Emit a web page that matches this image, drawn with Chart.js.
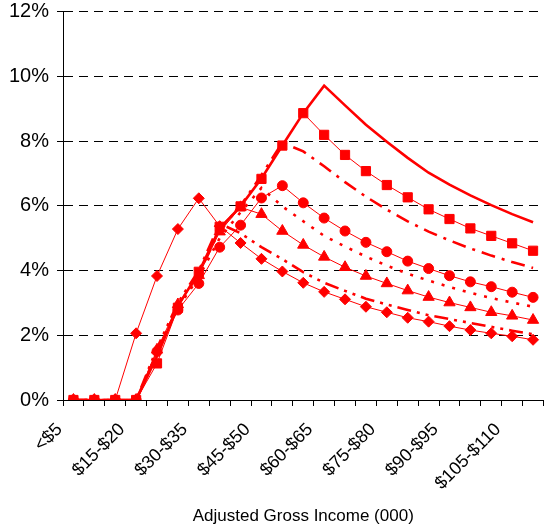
<!DOCTYPE html>
<html>
<head>
<meta charset="utf-8">
<script src="https://cdn.jsdelivr.net/npm/chart.js@4"></script>
<style>
  html, body { margin: 0; padding: 0; background: #fff; overflow: hidden; }
  #wrap { position: absolute; left: 0; top: 0; width: 551px; height: 529px; }
</style>
</head>
<body>
<div id="wrap"><canvas id="chart"></canvas></div>
<script>
const incomeBands = ["<$5", "$5-$10", "$10-$15", "$15-$20", "$20-$25", "$25-$30", "$30-$35",
  "$35-$40", "$40-$45", "$45-$50", "$50-$55", "$55-$60", "$60-$65", "$65-$70", "$70-$75",
  "$75-$80", "$80-$85", "$85-$90", "$90-$95", "$95-$100", "$100-$105", "$105-$110", "$110-$115"];

// percent values, one array per line
const solidLine = [0, 0, 0, 0, 1.35, 2.9, 3.95, 5.3, 5.98, 6.84, 7.86, 8.86, 9.71, 9.1, 8.5, 7.98, 7.48, 7.02, 6.65, 6.32, 6.02, 5.74, 5.49];
const squareLine = [0, 0, 0, 0, 1.13, 2.85, 3.96, 5.35, 5.98, 6.83, 7.86, 8.86, 8.19, 7.57, 7.07, 6.64, 6.26, 5.89, 5.59, 5.3, 5.07, 4.84, 4.61];
const dashDotLine = [0, 0, 0, 0, 1.45, 2.9, 3.9, 5.25, 6.0, 6.95, 7.95, 7.68, 7.22, 6.73, 6.28, 5.88, 5.52, 5.2, 4.93, 4.68, 4.46, 4.26, 4.08];
const circleLine = [0, 0, 0, 0, 1.5, 2.78, 3.6, 4.72, 5.4, 6.24, 6.62, 6.09, 5.62, 5.22, 4.87, 4.58, 4.29, 4.06, 3.84, 3.65, 3.5, 3.33, 3.17];
const dottedLine = [0, 0, 0, 0, 1.45, 2.85, 3.8, 5.0, 5.8, 6.55, 5.98, 5.52, 5.07, 4.74, 4.43, 4.15, 3.9, 3.69, 3.49, 3.31, 3.15, 3.01, 2.88];
const triangleLine = [0, 0, 0, 0, 1.55, 2.95, 3.85, 5.2, 5.95, 5.74, 5.22, 4.79, 4.42, 4.1, 3.83, 3.6, 3.38, 3.18, 3.01, 2.86, 2.71, 2.6, 2.47];
const dashDotDotLine = [0, 0, 0, 0, 1.6, 3.0, 4.0, 5.45, 5.15, 4.72, 4.35, 3.95, 3.62, 3.37, 3.13, 2.95, 2.78, 2.62, 2.5, 2.38, 2.26, 2.14, 2.03];
const diamondLine = [0, 0, 0, 2.06, 3.83, 5.28, 6.23, 5.37, 4.85, 4.36, 3.97, 3.62, 3.34, 3.11, 2.88, 2.71, 2.54, 2.42, 2.28, 2.16, 2.06, 1.97, 1.86];

const yTicks = [0, 2, 4, 6, 8, 10, 12];

const RED = "#ff0000";
Chart.defaults.font.family = "'Liberation Sans', Arial, sans-serif";
Chart.defaults.color = "#000";

function marked(label, data, shape, radius) {
  return {
    label: label, data: data,
    borderColor: RED, backgroundColor: RED, borderWidth: 1,
    pointStyle: shape, pointRadius: radius, pointBorderWidth: 1,
    pointBackgroundColor: RED, pointBorderColor: RED, tension: 0
  };
}
function plain(label, data, dash) {
  return {
    label: label, data: data,
    borderColor: RED, backgroundColor: RED, borderWidth: 2.6,
    borderDash: dash, pointRadius: 0, tension: 0
  };
}

new Chart(document.getElementById("chart"), {
  type: "line",
  data: {
    labels: incomeBands,
    datasets: [
      marked("Squares", squareLine, "rect", 6.5),
      plain("Solid", solidLine, []),
      plain("Dash dot", dashDotLine, [14, 7, 3, 7]),
      marked("Circles", circleLine, "circle", 5),
      plain("Dotted", dottedLine, [3, 8]),
      marked("Triangles", triangleLine, "triangle", 6.5),
      plain("Dash dot dot", dashDotDotLine, [14, 6, 3, 6, 3, 6]),
      marked("Diamonds", diamondLine, "rectRot", 5.5)
    ]
  },
  options: {
    responsive: true,
    maintainAspectRatio: false,
    animation: false,
    layout: { padding: 0 },
    plugins: {
      legend: { display: false },
      tooltip: { enabled: false }
    },
    scales: {
      x: {
        offset: true,
        grid: { offset: true, drawOnChartArea: false, drawTicks: true, tickLength: 6, color: "#000" },
        border: { color: "#000", width: 1 },
        ticks: {
          autoSkip: false, maxRotation: 45, minRotation: 45,
          font: { size: 18 }, color: "#000", padding: 13, labelOffset: -14,
          callback: function (v, i) { return i % 3 === 0 ? incomeBands[i] : ""; }
        },
        title: {
          display: true, text: "Adjusted Gross Income (000)",
          font: { size: 17 }, color: "#000", padding: { top: 4, bottom: 2 }
        },
        afterFit: function (scale) {
          scale.height = 129;
          scale.paddingRight = 0;
        }
      },
      y: {
        min: 0, max: 12,
        afterBuildTicks: function (scale) {
          scale.ticks = yTicks.map(function (v) { return { value: v }; });
        },
        grid: { color: "#000", lineWidth: 1, tickLength: 6 },
        border: { color: "#000", width: 1, dash: [9, 6] },
        ticks: {
          font: { size: 20 }, color: "#000", padding: 8,
          callback: function (v) { return v + "%"; }
        },
        afterFit: function (scale) {
          scale.width = 63;
          scale.paddingTop = 11.5;
          scale.paddingBottom = 0;
        }
      }
    }
  }
});
</script>
</body>
</html>
